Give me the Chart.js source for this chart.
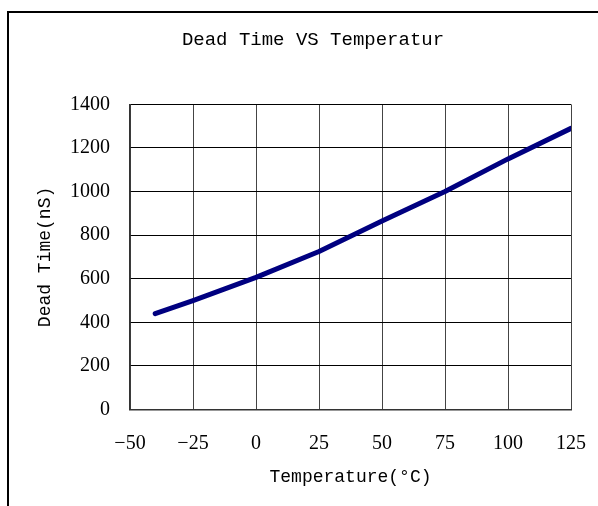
<!DOCTYPE html>
<html>
<head>
<meta charset="utf-8">
<script src="https://cdn.jsdelivr.net/npm/chart.js@4/dist/chart.umd.min.js"></script>
<style>
  html, body { margin: 0; padding: 0; background: #fff; }
  canvas { display: block; }
</style>
</head>
<body>
<canvas id="deadTimeChart" width="598" height="506"></canvas>
<script>
const temperatures = [-40, -25, 0, 25, 50, 75, 100, 125];
const deadTimes = [440, 500, 606, 725, 865, 1000, 1150, 1290];

const xTicks = [-50, -25, 0, 25, 50, 75, 100, 125];
const yTicks = [0, 200, 400, 600, 800, 1000, 1200, 1400];

// outer frame (top and left edges only, like the source figure)
const framePlugin = {
  id: "frame",
  beforeDraw(chart) {
    const c = chart.ctx;
    c.save();
    c.fillStyle = "#fff";
    c.fillRect(0, 0, chart.width, chart.height);
    c.strokeStyle = "#000";
    c.lineWidth = 2;
    c.beginPath();
    c.moveTo(chart.width, 12);
    c.lineTo(8, 12);
    c.lineTo(8, chart.height);
    c.stroke();
    c.restore();
  },
};

const ctx = document.getElementById("deadTimeChart").getContext("2d");

new Chart(ctx, {
  type: "line",
  data: {
    datasets: [
      {
        data: temperatures.map((t, i) => ({ x: t, y: deadTimes[i] })),
        borderColor: "#000080",
        borderWidth: 5,
        borderCapStyle: "round",
        borderJoinStyle: "round",
        pointRadius: 0,
        tension: 0,
        fill: false,
      },
    ],
  },
  options: {
    responsive: false,
    animation: false,
    devicePixelRatio: 1,
    layout: { padding: { left: 28, right: 0, top: 0, bottom: 0 } },
    plugins: {
      legend: { display: false },
      tooltip: { enabled: false },
      title: {
        display: true,
        text: "Dead Time VS Temperatur",
        color: "#000",
        font: { family: "Liberation Mono", size: 19, weight: "normal" },
        padding: { top: 28.6, bottom: 53 },
      },
    },
    scales: {
      x: {
        type: "linear",
        min: xTicks[0],
        max: xTicks[xTicks.length - 1],
        afterBuildTicks: (scale) => {
          scale.ticks = xTicks.map((v) => ({ value: v }));
        },
        afterFit: (scale) => {
          scale.height = 96.5;
        },
        grid: {
          color: "#444",
          lineWidth: 1,
          drawTicks: true,
          tickLength: 22,
          tickColor: "rgba(0,0,0,0)",
        },
        border: { color: "#333", width: 1.5 },
        ticks: {
          padding: 0,
          color: "#000",
          font: { family: "Liberation Serif", size: 20 },
          callback: (v) => String(v).replace("-", "\u2212"),
        },
        title: {
          display: true,
          text: "Temperature(°C)",
          color: "#000",
          font: { family: "Liberation Mono", size: 18, weight: "normal" },
          padding: { top: 0, bottom: 18 },
        },
      },
      y: {
        min: yTicks[0],
        max: yTicks[yTicks.length - 1],
        afterBuildTicks: (scale) => {
          scale.ticks = yTicks.map((v) => ({ value: v }));
        },
        afterFit: (scale) => {
          scale.width = 102;
        },
        grid: { color: "#000", lineWidth: 1, drawTicks: false },
        border: { color: "#333", width: 1.5 },
        ticks: {
          padding: 20,
          color: "#000",
          font: { family: "Liberation Serif", size: 20 },
          callback: (v) => String(v),
        },
        title: {
          display: true,
          text: "Dead Time(nS)",
          color: "#000",
          font: { family: "Liberation Mono", size: 18, weight: "normal" },
          padding: { top: 6.5, bottom: 0 },
        },
      },
      spacer: {
        position: "right",
        display: true,
        grid: { display: false },
        border: { display: false },
        ticks: { display: false },
        afterFit: (scale) => {
          scale.width = 27;
        },
      },
    },
  },
  plugins: [framePlugin],
});
</script>
</body>
</html>
